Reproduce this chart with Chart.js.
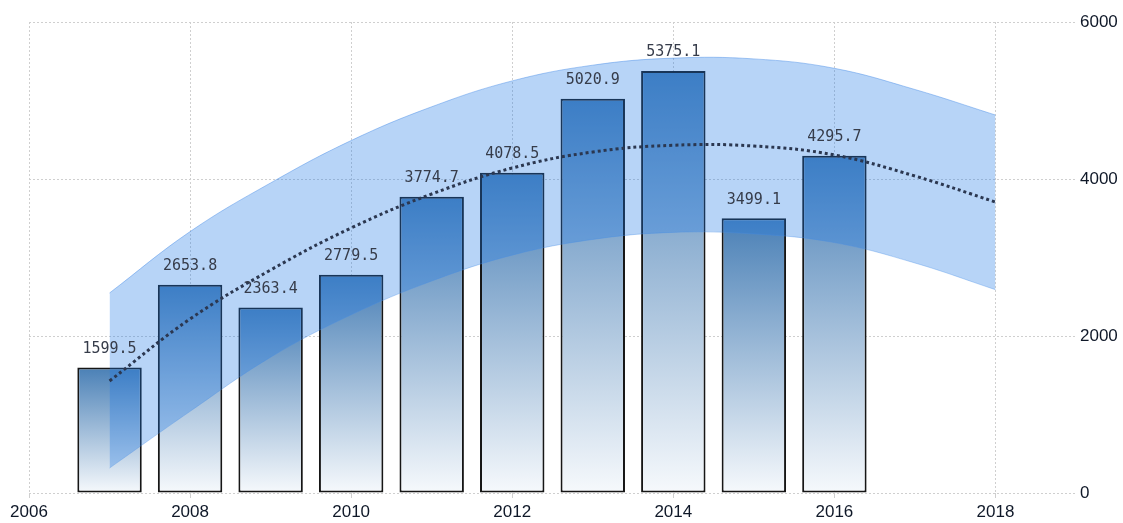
<!DOCTYPE html>
<html>
<head>
<meta charset="utf-8">
<script src="https://cdn.jsdelivr.net/npm/chart.js@4"></script>
<style>
  body { margin: 0; background: #fff; }
  #wrap { width: 1123px; height: 523px; }
</style>
</head>
<body>
<div id="wrap"><canvas id="chart" width="1123" height="523"></canvas></div>
<script>
// bars
const years = [2007, 2008, 2009, 2010, 2011, 2012, 2013, 2014, 2015, 2016];
const values = [1599.5, 2653.8, 2363.4, 2779.5, 3774.7, 4078.5, 5020.9, 5375.1, 3499.1, 4295.7];

// trend + band
const trendYears = [2007, 2008, 2009, 2010, 2011, 2012, 2013, 2014, 2015, 2016, 2017, 2018];
const trend = [1427, 2217, 2841, 3376, 3809, 4140, 4344, 4430, 4420, 4306, 4038, 3707];
const upper = [2548, 3330, 3950, 4490, 4920, 5250, 5450, 5540, 5530, 5410, 5140, 4815];
const lower = [318, 1040, 1730, 2270, 2700, 3030, 3230, 3320, 3300, 3190, 2930, 2590];

const xTicks = [2006, 2008, 2010, 2012, 2014, 2016, 2018];
const yTicks = [0, 2000, 4000, 6000];

function pairs(xs, ys) {
    return xs.map((x, i) => ({x: x, y: ys[i]}));
}

function barFill(ctx) {
    const chart = ctx.chart;
    if (!chart.chartArea || ctx.raw == null) return 'rgb(80,135,185)';
    const ys = chart.scales.y;
    const top = ys.getPixelForValue(ctx.raw.y);
    const bottom = ys.getPixelForValue(0);
    const g = chart.ctx.createLinearGradient(0, top, 0, bottom);
    g.addColorStop(0, 'rgb(74,128,182)');
    g.addColorStop(1, 'rgb(246,249,252)');
    return g;
}

const valueLabels = {
    id: 'valueLabels',
    afterDatasetsDraw(chart) {
        const meta = chart.getDatasetMeta(0);
        const c = chart.ctx;
        c.save();
        c.font = '15px "DejaVu Sans Mono"';
        c.fillStyle = '#363c4a';
        c.textAlign = 'center';
        c.textBaseline = 'bottom';
        meta.data.forEach((bar, i) => {
            c.fillText(values[i].toFixed(1), bar.x, bar.y - 11);
        });
        c.restore();
    }
};

new Chart(document.getElementById('chart'), {
    data: {
        datasets: [
            {
                type: 'bar',
                data: pairs(years, values),
                backgroundColor: barFill,
                borderColor: '#161616',
                borderWidth: 2,
                borderSkipped: false,
                barPercentage: 0.8,
                categoryPercentage: 1,
                order: 3
            },
            {
                type: 'line',
                data: pairs(trendYears, lower),
                borderColor: 'rgba(70,140,230,0.35)',
                borderWidth: 1,
                pointRadius: 0,
                tension: 0.4,
                fill: false,
                order: 2
            },
            {
                type: 'line',
                data: pairs(trendYears, upper),
                borderColor: 'rgba(70,140,230,0.45)',
                borderWidth: 1,
                backgroundColor: 'rgba(30,120,230,0.32)',
                pointRadius: 0,
                tension: 0.4,
                fill: '-1',
                order: 2
            },
            {
                type: 'line',
                data: pairs(trendYears, trend),
                borderColor: '#2b3750',
                borderWidth: 3,
                borderDash: [3, 3],
                pointRadius: 0,
                tension: 0.4,
                fill: false,
                order: 1
            }
        ]
    },
    options: {
        responsive: false,
        animation: false,
        layout: { padding: { left: 29, top: 22, right: 0, bottom: 0 } },
        plugins: {
            legend: { display: false },
            tooltip: { enabled: false }
        },
        scales: {
            x: {
                type: 'linear',
                min: 2006,
                max: 2019,
                offset: false,
                afterBuildTicks: (scale) => {
                    scale.ticks = xTicks.map(v => ({value: v}));
                },
                afterFit: (scale) => { scale.height = 30; },
                ticks: {
                    callback: (v) => String(v),
                    color: '#0f1828',
                    font: { family: '"Liberation Sans"', size: 17 },
                    padding: 4,
                    maxRotation: 0,
                    autoSkip: false
                },
                grid: {
                    offset: false,
                    color: '#cfcfcf',
                    tickColor: '#cfcfcf',
                    tickLength: 5,
                    drawTicks: true
                },
                border: { display: false, dash: [2, 2] }
            },
            y: {
                position: 'right',
                min: 0,
                max: 6000,
                afterBuildTicks: (scale) => {
                    scale.ticks = yTicks.map(v => ({value: v}));
                },
                afterFit: (scale) => { scale.width = 47; },
                ticks: {
                    callback: (v) => String(v),
                    color: '#0f1828',
                    font: { family: '"Liberation Sans"', size: 17 },
                    padding: 4
                },
                grid: {
                    color: '#cfcfcf',
                    drawTicks: false
                },
                border: { display: false, dash: [2, 2] }
            }
        }
    },
    plugins: [valueLabels]
});
</script>
</body>
</html>
